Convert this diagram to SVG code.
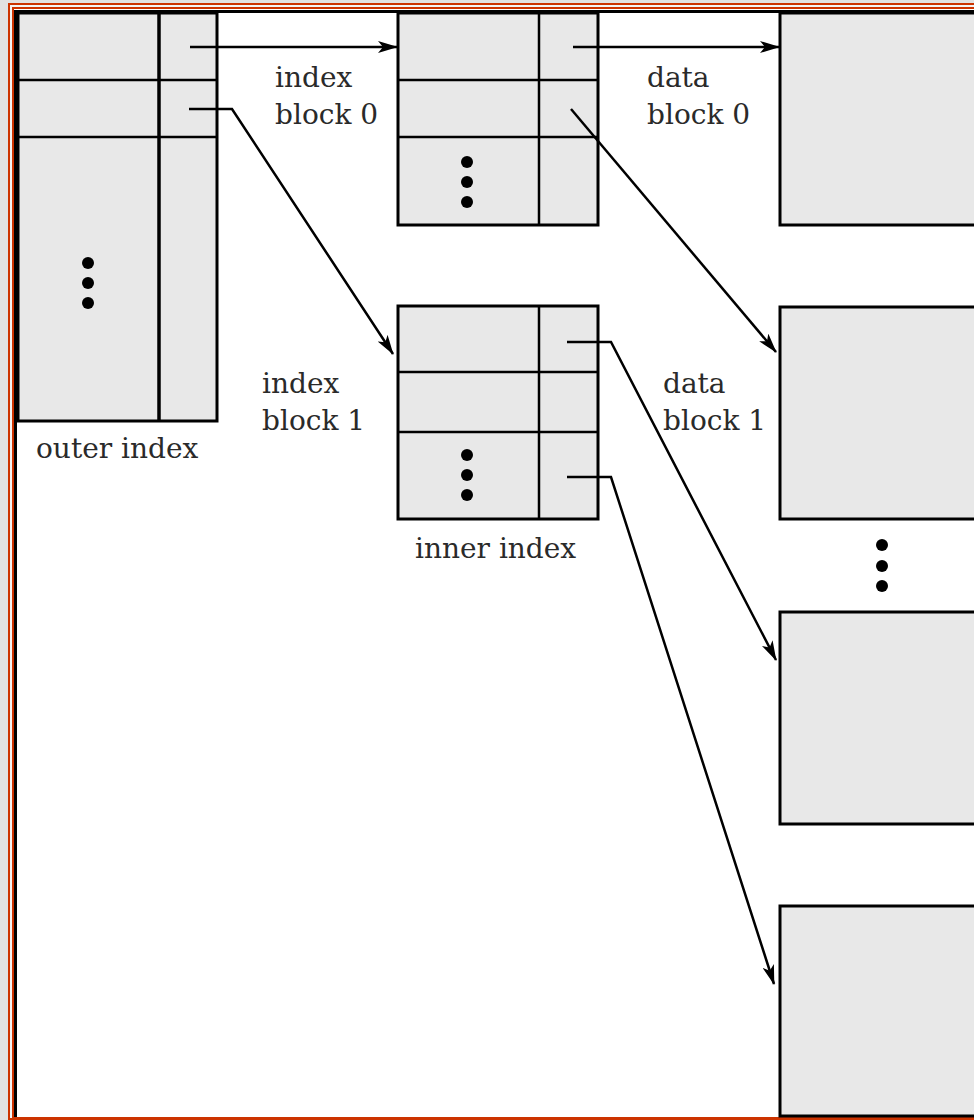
<svg xmlns="http://www.w3.org/2000/svg" width="974" height="1120" viewBox="0 0 974 1120">
<style>
.box{fill:#e8e8e8;stroke:#000;stroke-width:3}
.div{stroke:#000;stroke-width:2.5;fill:none}
.lbl{font-family:"DejaVu Serif","Liberation Serif",serif;font-size:28px;fill:#2a2a2a}
.conn{stroke:#000;stroke-width:2.5;fill:none;marker-end:url(#ah)}
.dot{fill:#000}
</style>
<defs>
<marker id="ah" markerWidth="20" markerHeight="12" refX="19" refY="6" orient="auto" markerUnits="userSpaceOnUse">
<path d="M0,0 L20,6 L0,12 L5,6 Z" fill="#000"/>
</marker>
</defs>
<g id="frame">
<rect x="0" y="0" width="974" height="1120" fill="#e2e2e2"/>
<rect x="9" y="4" width="1000" height="1115" fill="#f4f4f4" stroke="#cc3300" stroke-width="2"/>
<rect x="13" y="8" width="1000" height="1110" fill="#fff" stroke="#cc3300" stroke-width="2"/>
<path d="M15.5,1117 V11.5 H974" stroke="#000" stroke-width="3" fill="none"/>
</g>
<g id="outer-index">
<rect class="box" x="18" y="13" width="199" height="408"/>
<line x1="159" y1="13" x2="159" y2="421" stroke="#000" stroke-width="3.5"/>
<path class="div" d="M18,80 H217 M18,137 H217"/>
<circle class="dot" cx="88" cy="263" r="6"/>
<circle class="dot" cx="88" cy="283" r="6"/>
<circle class="dot" cx="88" cy="303" r="6"/>
<text class="lbl" x="36" y="458">outer index</text>
</g>
<g id="index-block-0">
<rect class="box" x="398" y="13" width="200" height="212"/>
<path class="div" d="M539,13 V225 M398,80 H598 M398,137 H598"/>
<circle class="dot" cx="467" cy="162" r="6"/>
<circle class="dot" cx="467" cy="182" r="6"/>
<circle class="dot" cx="467" cy="202" r="6"/>
<text class="lbl" x="275" y="87">index</text>
<text class="lbl" x="275" y="124">block 0</text>
</g>
<g id="index-block-1">
<rect class="box" x="398" y="306" width="200" height="213"/>
<path class="div" d="M539,306 V519 M398,372 H598 M398,432 H598"/>
<circle class="dot" cx="467" cy="455" r="6"/>
<circle class="dot" cx="467" cy="475" r="6"/>
<circle class="dot" cx="467" cy="495" r="6"/>
<text class="lbl" x="262" y="393">index</text>
<text class="lbl" x="262" y="430">block 1</text>
<text class="lbl" x="415" y="558">inner index</text>
</g>
<g id="data-block-0">
<rect class="box" x="780" y="13" width="230" height="212"/>
<text class="lbl" x="647" y="87">data</text>
<text class="lbl" x="647" y="124">block 0</text>
</g>
<g id="data-block-1">
<rect class="box" x="780" y="307" width="230" height="212"/>
<text class="lbl" x="663" y="393">data</text>
<text class="lbl" x="663" y="430">block 1</text>
</g>
<g id="data-dots">
<circle class="dot" cx="882" cy="545" r="6"/>
<circle class="dot" cx="882" cy="566" r="6"/>
<circle class="dot" cx="882" cy="586" r="6"/>
</g>
<g id="data-block-2">
<rect class="box" x="780" y="612" width="230" height="212"/>
</g>
<g id="data-block-3">
<rect class="box" x="780" y="906" width="230" height="210"/>
</g>
<g id="connectors">
<path class="conn" d="M190,47 H397"/>
<path class="conn" d="M189,109 H232 L393,354"/>
<path class="conn" d="M573,47 H779"/>
<path class="conn" d="M571,109 L776,352"/>
<path class="conn" d="M567,342 H611 L776,660"/>
<path class="conn" d="M567,477 H611 L774,984"/>
</g>
</svg>
